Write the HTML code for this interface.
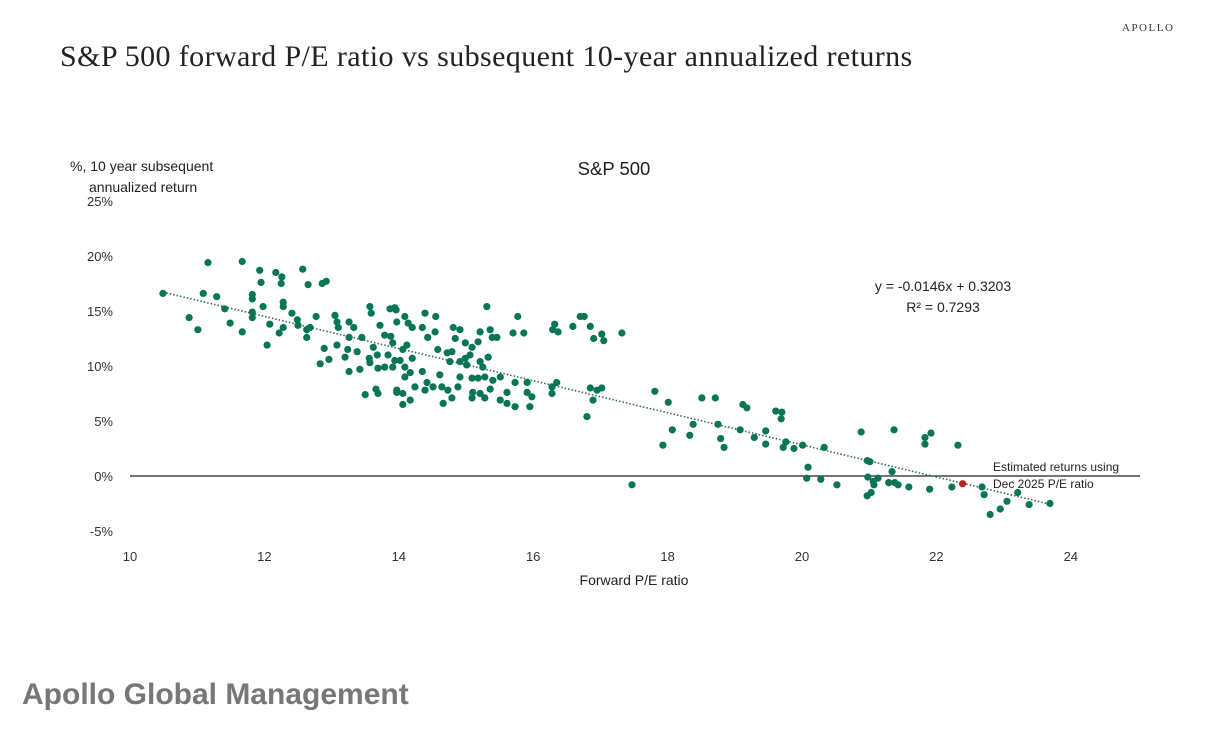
<!DOCTYPE html>
<html><head><meta charset="utf-8"><style>
body{margin:0;background:#fff;width:1209px;height:734px;overflow:hidden;position:relative;font-family:"Liberation Sans",sans-serif}
.t{position:absolute;white-space:nowrap}
</style></head><body>
<div class="t" style="left:1122px;top:22px;font-family:'Liberation Serif',serif;font-size:11px;letter-spacing:1.5px;color:#333">APOLLO</div>
<div class="t" style="left:60px;top:40px;font-family:'Liberation Serif',serif;font-size:30px;letter-spacing:0.4px;color:#222">S&amp;P 500 forward P/E ratio vs subsequent 10-year annualized returns</div>
<div class="t" style="left:22px;top:678px;font-weight:bold;font-size:30px;color:#777">Apollo Global Management</div>
<svg id="chart" width="1209" height="734" style="position:absolute;left:0;top:0" font-family="Liberation Sans, sans-serif"></svg>
<script>
const xTicks=[10,12,14,16,18,20,22,24];
const yTicks=[25,20,15,10,5,0,-5];
const pe=[10.49,11.16,11.67,11.93,11.95,12.17,12.26,12.25,12.57,12.65,12.86,12.92,11.09,11.29,10.88,11.01,11.41,11.49,11.67,11.82,11.82,11.82,11.82,11.98,12.08,12.04,12.28,12.28,12.41,12.28,12.22,12.49,12.50,12.63,12.63,12.68,12.77,12.89,12.83,12.96,13.05,13.08,13.10,13.08,13.20,13.26,13.33,13.26,13.24,13.38,13.26,13.42,13.45,13.57,13.59,13.62,13.68,13.56,13.57,13.69,13.72,13.79,13.87,13.96,13.97,13.88,13.84,13.79,13.91,13.50,13.66,13.69,13.97,
13.94,14.09,14.14,14.20,14.39,14.55,14.35,14.43,14.54,14.81,14.91,14.84,15.31,15.21,15.36,15.39,15.46,15.70,15.77,15.86,16.32,16.29,16.37,16.59,16.70,16.76,16.85,16.90,17.02,17.05,17.32,13.91,14.06,14.12,13.94,14.02,14.20,14.09,14.35,14.58,14.72,14.79,14.76,14.91,14.99,15.09,15.18,15.06,14.99,15.01,15.21,15.33,15.25,14.61,14.09,14.17,13.97,14.06,14.24,14.42,14.39,14.51,14.64,14.73,14.79,14.66,14.17,14.06,14.91,14.88,15.09,15.18,15.28,15.10,15.09,15.21,15.28,15.36,15.40,15.51,15.51,15.61,15.61,15.73,15.73,15.91,15.91,15.98,15.95,16.28,16.28,16.35,16.85,16.95,16.89,17.02,16.80,
17.81,18.01,18.51,18.71,19.12,19.18,19.61,19.70,19.69,17.93,18.07,18.33,18.38,18.75,18.79,18.84,19.08,19.29,19.46,19.46,19.76,19.72,19.88,20.01,20.33,20.88,21.37,21.83,21.92,21.83,22.32,20.97,21.01,21.34,20.09,20.07,20.28,20.52,20.98,21.06,21.07,21.13,21.29,21.38,21.43,21.59,21.90,22.23,20.97,21.03,17.47,22.68,22.71,23.21,23.05,22.95,22.80,23.38,23.69];
const ret=[16.6,19.4,19.5,18.7,17.6,18.5,18.1,17.5,18.8,17.4,17.5,17.7,16.6,16.3,14.4,13.3,15.2,13.9,13.1,16.5,16.1,14.9,14.4,15.4,13.8,11.9,15.8,15.4,14.8,13.5,13.0,14.2,13.7,13.3,12.6,13.5,14.5,11.6,10.2,10.6,14.6,14.0,13.5,11.9,10.8,14.0,13.5,12.6,11.5,11.3,9.5,9.7,12.6,15.4,14.8,11.7,11.0,10.7,10.3,9.8,13.7,12.8,15.2,15.1,14.0,12.7,11.0,9.9,9.9,7.4,7.9,7.5,7.6,
15.3,14.5,13.9,13.5,14.8,14.5,13.5,12.6,13.1,13.5,13.3,12.5,15.4,13.1,13.3,12.6,12.6,13.0,14.5,13.0,13.8,13.3,13.1,13.6,14.5,14.5,13.6,12.5,12.9,12.3,13.0,12.1,11.5,11.9,10.5,10.5,10.7,9.9,9.5,11.5,11.2,11.3,10.4,10.4,12.1,11.7,12.2,11.0,10.7,10.1,10.4,10.8,9.9,9.2,9.0,9.4,7.8,7.5,8.1,8.5,7.8,8.1,8.1,7.8,7.1,6.6,6.9,6.5,9.0,8.1,8.9,8.9,9.0,7.6,7.1,7.5,7.1,7.9,8.7,9.0,6.9,7.6,6.6,8.5,6.3,8.5,7.6,7.2,6.3,8.1,7.5,8.5,8.0,7.8,6.9,8.0,5.4,
7.7,6.7,7.1,7.1,6.5,6.2,5.9,5.8,5.2,2.8,4.2,3.7,4.7,4.7,3.4,2.6,4.2,3.5,4.1,2.9,3.1,2.6,2.5,2.8,2.6,4.0,4.2,3.5,3.9,2.9,2.8,1.4,1.3,0.4,0.8,-0.2,-0.3,-0.8,-0.1,-0.5,-0.8,-0.2,-0.6,-0.6,-0.8,-1.0,-1.2,-1.0,-1.8,-1.5,-0.8,-1.0,-1.7,-1.5,-2.3,-3.0,-3.5,-2.6,-2.5];
const currentPE=[22.39];
const currentRet=[-0.7];
const slope=[-1.46], intercept=[32.03];
const svg=document.getElementById('chart');
const NS='http://www.w3.org/2000/svg';
const X=v=>130+(v-10)*67.2, Y=v=>476-v*11;
function mk(t,a,txt){const e=document.createElementNS(NS,t);for(const k in a)e.setAttribute(k,a[k]);if(txt!=null)e.textContent=txt;svg.appendChild(e);return e;}
let e;
xTicks.forEach(v=>{e=mk('text',{x:X(v),y:561,'text-anchor':'middle','font-size':13,fill:'#333'},v);

});
yTicks.forEach(v=>{e=mk('text',{x:113,y:Y(v)+5,'text-anchor':'end','font-size':13,fill:'#333'},v+'%');

});
e=mk('line',{x1:130,x2:1140,y1:Y(0),y2:Y(0),stroke:'#222','stroke-width':1.3});


const xmin=Math.min(...pe), xmax=Math.max(...pe);
e=mk('line',{x1:X(xmin),x2:X(xmax),y1:Y(slope[0]*xmin+intercept[0]),y2:Y(slope[0]*xmax+intercept[0]),stroke:'#2f6d5a','stroke-width':1.6,'stroke-dasharray':'1.5 2'});


pe.forEach((v,i)=>{e=mk('circle',{cx:X(v),cy:Y(ret[i]),r:3.6,fill:'#087556'});

});
e=mk('circle',{cx:X(currentPE[0]),cy:Y(currentRet[0]),r:3.6,fill:'#c0201f'});


const texts=[['S&P 500',614,175,18.5,'middle','chart-title'],['%, 10 year subsequent',70,171,14,'start','y-axis-title'],['annualized return',89,192,14,'start','y-axis-title-line2'],['Forward P/E ratio',634,585,14,'middle','x-axis-title'],['y = -0.0146x + 0.3203',943,291,14,'middle','regression-equation'],['R² = 0.7293',943,312,14,'middle','r-squared'],['Estimated returns using',993,471,12,'start','annotation-line1'],['Dec 2025 P/E ratio',993,488,12,'start','annotation-line2']];
texts.forEach(t=>{e=mk('text',{x:t[1],y:t[2],'font-size':t[3],'text-anchor':t[4],fill:'#222'},t[0]);

});
</script>
</body></html>
